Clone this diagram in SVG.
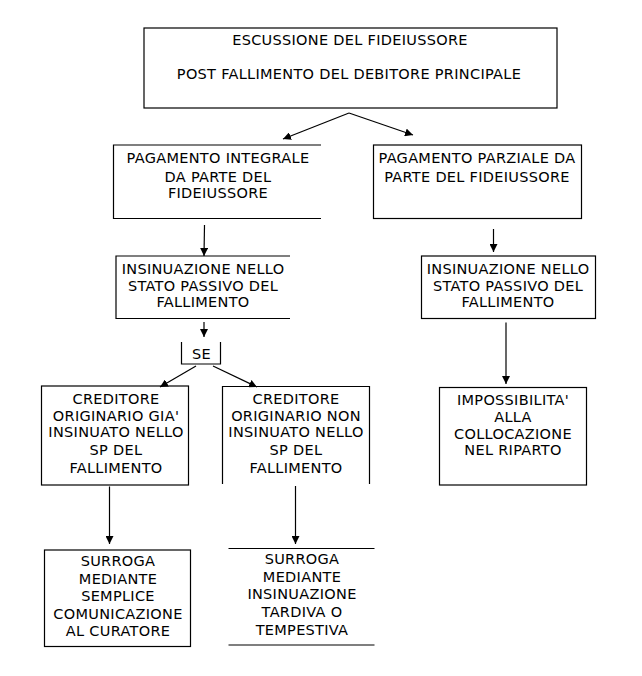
<svg xmlns="http://www.w3.org/2000/svg" width="642" height="676" viewBox="0 0 642 676">
<defs>
<marker id="ah" viewBox="0 0 10 10" refX="10" refY="5" markerWidth="8" markerHeight="8" markerUnits="userSpaceOnUse" orient="auto">
<path d="M0,0 L10,5 L0,10 z" fill="#000"/>
</marker>
<style>
.b{fill:none;stroke:#000;stroke-width:1.2}
.t{font-family:"DejaVu Sans","Verdana",sans-serif;font-size:14.5px;fill:#000;text-anchor:middle;letter-spacing:0.3px}
.c{fill:none;stroke:#000;stroke-width:1.2;marker-end:url(#ah)}
</style>
</defs>
<rect width="642" height="676" fill="#fff"/>
<g id="escussione">
<rect class="b" x="144" y="28" width="413" height="80"/>
<text class="t" x="350" y="45">ESCUSSIONE DEL FIDEIUSSORE</text>
<text class="t" x="349" y="79">POST FALLIMENTO DEL DEBITORE PRINCIPALE</text>
</g>
<g id="pag-integrale">
<path class="b" d="M321,145 H113.5 V218.5 H321"/>
<text class="t" x="218" y="163">PAGAMENTO INTEGRALE</text>
<text class="t" x="218" y="181.5">DA PARTE DEL</text>
<text class="t" x="218" y="198">FIDEIUSSORE</text>
</g>
<g id="pag-parziale">
<rect class="b" x="373.5" y="145" width="208" height="73.5"/>
<text class="t" x="477" y="163">PAGAMENTO PARZIALE DA</text>
<text class="t" x="477" y="181.5">PARTE DEL FIDEIUSSORE</text>
</g>
<g id="insinuazione-sx">
<path class="b" d="M290,256 H116 V318.5 H290"/>
<text class="t" x="203" y="274">INSINUAZIONE NELLO</text>
<text class="t" x="203" y="290.5">STATO PASSIVO DEL</text>
<text class="t" x="203" y="307">FALLIMENTO</text>
</g>
<g id="insinuazione-dx">
<rect class="b" x="421.5" y="256" width="174" height="62.5"/>
<text class="t" x="508" y="274">INSINUAZIONE NELLO</text>
<text class="t" x="508" y="290.5">STATO PASSIVO DEL</text>
<text class="t" x="508" y="307">FALLIMENTO</text>
</g>
<g id="se">
<path class="b" d="M181.5,342 V364 H220.5 V342"/>
<text class="t" x="201.5" y="358.5">SE</text>
</g>
<g id="creditore-gia">
<rect class="b" x="41.5" y="386" width="147" height="99"/>
<text class="t" x="116" y="403.5">CREDITORE</text>
<text class="t" x="116" y="420.5">ORIGINARIO GIA'</text>
<text class="t" x="116" y="437">INSINUATO NELLO</text>
<text class="t" x="116" y="455">SP DEL</text>
<text class="t" x="116" y="472.5">FALLIMENTO</text>
</g>
<g id="creditore-non">
<path class="b" d="M222.5,484 V386.5 H369.5 V484"/>
<text class="t" x="296" y="403.5">CREDITORE</text>
<text class="t" x="296" y="420.5">ORIGINARIO NON</text>
<text class="t" x="296" y="437">INSINUATO NELLO</text>
<text class="t" x="296" y="455">SP DEL</text>
<text class="t" x="296" y="472.5">FALLIMENTO</text>
</g>
<g id="impossibilita">
<rect class="b" x="439.5" y="387.5" width="147" height="97.5"/>
<text class="t" x="513" y="405">IMPOSSIBILITA'</text>
<text class="t" x="513" y="421.5">ALLA</text>
<text class="t" x="513" y="438.5">COLLOCAZIONE</text>
<text class="t" x="513" y="455">NEL RIPARTO</text>
</g>
<g id="surroga-comunicazione">
<rect class="b" x="44.5" y="550" width="146" height="96.5"/>
<text class="t" x="118" y="566">SURROGA</text>
<text class="t" x="118" y="583.5">MEDIANTE</text>
<text class="t" x="118" y="601">SEMPLICE</text>
<text class="t" x="118" y="618.5">COMUNICAZIONE</text>
<text class="t" x="118" y="636">AL CURATORE</text>
</g>
<g id="surroga-insinuazione">
<path class="b" d="M228.5,548.5 H374.5 M228.5,645 H374.5"/>
<text class="t" x="302" y="564">SURROGA</text>
<text class="t" x="302" y="581.5">MEDIANTE</text>
<text class="t" x="302" y="599">INSINUAZIONE</text>
<text class="t" x="302" y="616.5">TARDIVA O</text>
<text class="t" x="302" y="635">TEMPESTIVA</text>
</g>
<g id="connectors">
<line class="c" x1="349" y1="113" x2="283" y2="139"/>
<line class="c" x1="349" y1="113" x2="413" y2="135"/>
<line class="c" x1="204.5" y1="225" x2="204" y2="256"/>
<line class="c" x1="493.5" y1="229" x2="493.5" y2="252"/>
<line class="c" x1="204" y1="322" x2="204" y2="337"/>
<line class="c" x1="506" y1="322.5" x2="506" y2="384"/>
<line class="c" x1="196" y1="366" x2="160" y2="387"/>
<line class="c" x1="213" y1="366" x2="257" y2="387"/>
<line class="c" x1="109.5" y1="486.5" x2="109.5" y2="544"/>
<line class="c" x1="295.5" y1="486" x2="295.5" y2="544"/>
</g>
</svg>
